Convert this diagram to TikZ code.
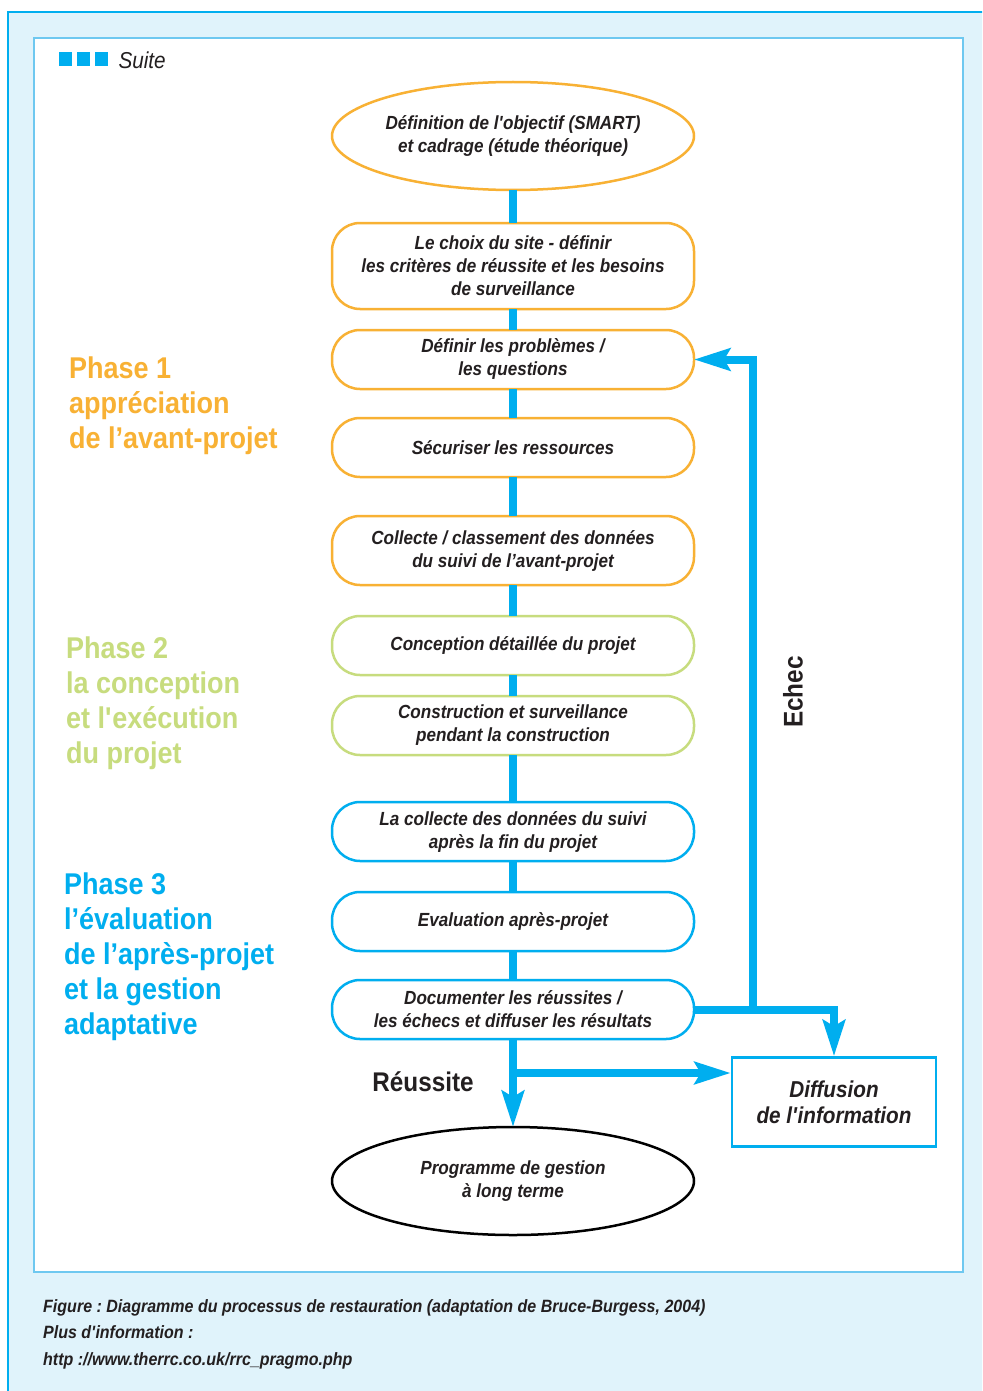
\documentclass[tikz,border=0pt]{standalone}
\usepackage{fontspec}
\setmainfont{Liberation Sans}[FakeStretch=0.9]
\usetikzlibrary{positioning, arrows.meta, calc, shapes.geometric}

\definecolor{cyanfig}{RGB}{0,174,239}
\definecolor{orangefig}{RGB}{248,177,52}
\definecolor{vertfig}{RGB}{199,220,126}
\definecolor{fondfig}{RGB}{224,243,251}
\definecolor{cadrefig}{RGB}{110,200,240}
\definecolor{textefig}{RGB}{35,31,32}
\newcommand{\apos}{\textquotesingle}
\frenchspacing

\begin{document}
\begin{tikzpicture}[
        x=1pt, y=-1pt,
        % --- STYLES ---
        % 1. Les étapes (boîtes arrondies)
        etape/.style={
                draw,
                line width=2.5pt,
                outer sep=0pt,
                rounded corners=28pt,
                fill=white,
                align=center,
                minimum width=362pt,
                minimum height=59pt,
                text=textefig,
                font=\fontsize{19}{23}\selectfont\bfseries\itshape
            },
        etapeorange/.style={etape, draw=orangefig},
        etapevert/.style={etape, draw=vertfig},
        etapebleue/.style={etape, draw=cyanfig},
        % 2. Début et fin (ellipses)
        terminal/.style={
                ellipse,
                draw,
                line width=2.5pt,
                outer sep=0pt,
                fill=white,
                inner sep=0pt,
                align=center,
                minimum width=362pt,
                minimum height=108pt,
                text=textefig,
                font=\fontsize{19}{23}\selectfont\bfseries\itshape
            },
        % 3. Les flux bleus
        flux/.style={draw=cyanfig, line width=8pt},
        fleche/.style={flux, -{Stealth[length=36pt, width=22pt, inset=6pt]}},
        % 4. Les textes des phases
        phasetexte/.style={
                anchor=north west,
                inner sep=0pt,
                align=left,
                font=\fontsize{30}{35}\selectfont\bfseries
            },
        etiquette/.style={
                text=textefig,
                font=\fontsize{27}{30}\selectfont\bfseries
            }
    ]

    % 0. Cadres
    \useasboundingbox (0,0) rectangle (982,1391);
    \fill[white] (0,0) rectangle (982,1391);
    \begin{scope}
        \clip (0,0) rectangle (982,1391);
        \draw[cyanfig, line width=1.5pt, fill=fondfig] (8,12) rectangle (1000,1410);
    \end{scope}
    \draw[cadrefig, line width=1.5pt, fill=white] (34,38) rectangle (963,1272);

    % En-tête
    \foreach \i in {0,1,2}
    \fill[cyanfig] (59+18*\i,52) rectangle ++(13,14);
    \node[anchor=west, text=textefig, font=\fontsize{23}{26}\selectfont\itshape] (suite) at (115,60) {Suite};

    % 1. Les étapes
    \node[terminal, draw=orangefig] (objectif) at (513,136) {Définition de l\apos objectif (SMART)\\et cadrage (étude théorique)};
    \node[etapeorange, minimum height=86pt, below=33pt of objectif] (site) {Le choix du site - définir\\les critères de réussite et les besoins\\de surveillance};
    \node[etapeorange, below=21pt of site] (probleme) {Définir les problèmes /\\les questions};
    \node[etapeorange, below=29pt of probleme] (ressources) {Sécuriser les ressources};
    \node[etapeorange, minimum height=69pt, below=39pt of ressources] (collecte) {Collecte / classement des données\\du suivi de l’avant-projet};
    \node[etapevert, below=31pt of collecte] (conception) {Conception détaillée du projet};
    \node[etapevert, below=21pt of conception] (construction) {Construction et surveillance\\pendant la construction};
    \node[etapebleue, below=47pt of construction] (suivi) {La collecte des données du suivi\\après la fin du projet};
    \node[etapebleue, below=31pt of suivi] (evaluation) {Evaluation après-projet};
    \node[etapebleue, below=29pt of evaluation] (document) {Documenter les réussites /\\les échecs et diffuser les résultats};
    \node[terminal, draw=black, below=88pt of document] (programme) {Programme de gestion\\à long terme};
    \node[draw=cyanfig, line width=2.5pt, minimum width=204pt, minimum height=89pt, align=center,
        text=textefig, font=\fontsize{23}{26}\selectfont\bfseries\itshape] (diffusion) at (834,1102) {Diffusion\\de l\apos information};

    % 2. Les phases
    \node[phasetexte, text=orangefig] (phaseun) at (69,357) {Phase 1\\appréciation\\de l’avant-projet};
    \node[phasetexte, text=vertfig] (phasedeux) at (66,637) {Phase 2\\la conception\\et l\apos exécution\\du projet};
    \node[phasetexte, text=cyanfig] (phasetrois) at (64,873) {Phase 3\\l’évaluation\\de l’après-projet\\et la gestion\\adaptative};

    % 3. Les flux
    \foreach \a/\b in {objectif/site, site/probleme, probleme/ressources, ressources/collecte,
            collecte/conception, conception/construction, construction/suivi, suivi/evaluation,
            evaluation/document}
    \draw[flux] (\a) -- (\b);

    % Echec : retour vers les problèmes
    \draw[fleche] (document.east) -- ++(59pt,0pt) |- (probleme.east);
    \draw[fleche] (document.east) -| (diffusion.north);
    \node[etiquette, rotate=90] (echec) at (793,692) {Echec};

    % Réussite
    \draw[fleche] (document) -- (programme);
    \coordinate (bifurcation) at ($(document.south)+(0,34)$);
    \draw[fleche] (bifurcation) -- (bifurcation -| diffusion.west);
    \node[etiquette] (reussite) at (423,1082) {Réussite};

    % 4. Légende
    \node[anchor=north west, inner sep=0pt, align=left, text=textefig,
        font=\fontsize{17.8}{26.5}\selectfont\bfseries\itshape] (legende) at (43,1299)
    {Figure : Diagramme du processus de restauration (adaptation de Bruce-Burgess, 2004)\\
        Plus d\apos information :\\
        http ://www.therrc.co.uk/rrc\_pragmo.php};

\end{tikzpicture}
\end{document}
